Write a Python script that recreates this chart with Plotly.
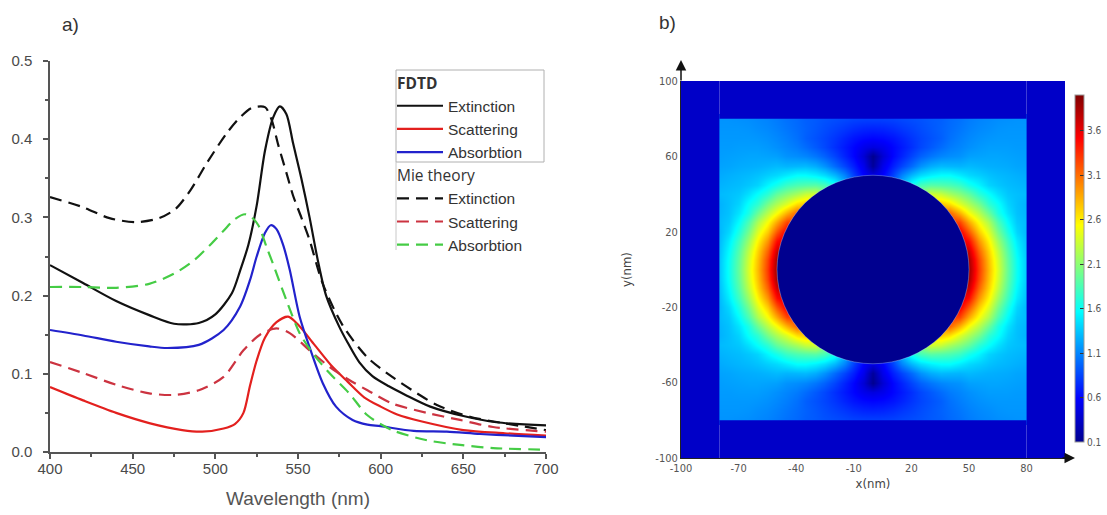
import numpy as np
import plotly.graph_objects as go

# ---------------- Panel a: cross sections ----------------
wl_fdtd_ext = [400, 420, 440, 460, 475, 490, 500, 510, 515, 520, 525, 530, 535, 539, 543, 547, 552, 557, 562, 567, 575, 580, 587, 595, 605, 615, 630, 650, 670, 700]
fdtd_ext = [0.239, 0.216, 0.193, 0.175, 0.164, 0.165, 0.176, 0.203, 0.232, 0.265, 0.315, 0.385, 0.428, 0.442, 0.432, 0.395, 0.35, 0.30, 0.245, 0.20, 0.16, 0.14, 0.115, 0.097, 0.084, 0.073, 0.058, 0.046, 0.038, 0.034]

wl_fdtd_sca = [400, 420, 440, 460, 480, 492, 505, 512, 517, 521, 525, 530, 537, 544, 550, 560, 570, 580, 590, 600, 610, 625, 650, 675, 700]
fdtd_sca = [0.083, 0.066, 0.050, 0.037, 0.028, 0.026, 0.030, 0.036, 0.050, 0.085, 0.117, 0.146, 0.166, 0.173, 0.163, 0.137, 0.111, 0.090, 0.070, 0.058, 0.048, 0.039, 0.028, 0.024, 0.021]

wl_fdtd_abs = [400, 420, 440, 460, 471, 490, 505, 515, 521, 525, 530, 533.5, 537, 541, 545, 551, 557, 565, 573, 583, 592, 600, 620, 640, 660, 680, 700]
fdtd_abs = [0.156, 0.149, 0.141, 0.135, 0.133, 0.137, 0.156, 0.186, 0.22, 0.25, 0.28, 0.29, 0.285, 0.265, 0.233, 0.173, 0.134, 0.088, 0.058, 0.041, 0.035, 0.033, 0.027, 0.026, 0.023, 0.021, 0.019]

wl_mie_ext = [400, 420, 436, 452, 466, 476, 485, 495, 507, 515, 522, 530, 534, 538, 543, 547, 552, 557, 565, 577, 592, 607, 622, 634, 654, 674, 700]
mie_ext = [0.326, 0.313, 0.299, 0.294, 0.299, 0.311, 0.335, 0.37, 0.408, 0.428, 0.44, 0.441, 0.425, 0.393, 0.357, 0.328, 0.30, 0.271, 0.215, 0.162, 0.121, 0.096, 0.075, 0.06, 0.045, 0.037, 0.028]

wl_mie_sca = [400, 420, 440, 460, 475, 490, 505, 517, 527, 537, 545, 557, 569, 581, 592, 607, 628, 648, 668, 700]
mie_sca = [0.115, 0.101, 0.086, 0.075, 0.073, 0.079, 0.096, 0.13, 0.15, 0.158, 0.152, 0.13, 0.109, 0.092, 0.079, 0.062, 0.05, 0.041, 0.032, 0.026]

wl_mie_abs = [400, 420, 440, 460, 475, 487, 497, 505, 512, 518, 522, 526, 531, 535, 543, 551, 559, 569, 581, 592, 607, 628, 648, 668, 700]
mie_abs = [0.211, 0.211, 0.21, 0.215, 0.228, 0.245, 0.265, 0.283, 0.298, 0.304, 0.30, 0.29, 0.262, 0.24, 0.194, 0.152, 0.126, 0.101, 0.075, 0.047, 0.028, 0.015, 0.009, 0.005, 0.003]

x_ticks_a = [400, 450, 500, 550, 600, 650, 700]
y_ticks_a = [0.0, 0.1, 0.2, 0.3, 0.4, 0.5]

# ---------------- Panel b: field enhancement map ----------------
# quadrant read from the (symmetric) map: rows y = 0..80 nm, columns x = 0..80 nm, step 5 nm
quad_coords = [0, 5, 10, 15, 20, 25, 30, 35, 40, 45, 50, 55, 60, 65, 70, 75, 80]
field_quadrant = [
    [3.90, 3.90, 3.90, 3.90, 3.90, 3.90, 3.90, 3.90, 3.90, 3.90, 3.90, 3.30, 2.80, 2.40, 1.95, 1.60, 1.35],
    [0.45, 2.77, 3.49, 3.70, 3.78, 3.82, 3.85, 3.86, 3.87, 3.88, 3.85, 3.26, 2.77, 2.37, 1.93, 1.59, 1.35],
    [0.45, 1.79, 2.77, 3.25, 3.49, 3.62, 3.70, 3.75, 3.78, 3.81, 3.71, 3.14, 2.70, 2.30, 1.88, 1.55, 1.33],
    [0.45, 1.30, 2.20, 2.77, 3.13, 3.35, 3.49, 3.59, 3.65, 3.70, 3.48, 2.95, 2.57, 2.17, 1.79, 1.49, 1.31],
    [0.45, 1.04, 1.79, 2.37, 2.77, 3.06, 3.25, 3.39, 3.49, 3.57, 3.19, 2.74, 2.41, 2.02, 1.67, 1.41, 1.29],
    [0.45, 0.88, 1.51, 2.04, 2.46, 2.77, 3.01, 3.18, 3.31, 3.26, 2.87, 2.52, 2.22, 1.86, 1.56, 1.36, 1.30],
    [0.45, 0.78, 1.30, 1.79, 2.20, 2.52, 2.77, 2.97, 3.13, 2.84, 2.52, 2.27, 1.97, 1.67, 1.46, 1.33, 1.28],
    [0.45, 0.71, 1.15, 1.59, 1.97, 2.30, 2.56, 2.77, 2.66, 2.42, 2.23, 2.02, 1.74, 1.59, 1.40, 1.32, 1.27],
    [0.45, 0.66, 1.04, 1.43, 1.79, 2.10, 2.37, 2.33, 2.20, 2.08, 1.94, 1.73, 1.58, 1.45, 1.35, 1.32, 1.30],
    [0.45, 0.62, 0.95, 1.30, 1.64, 1.83, 1.90, 1.88, 1.85, 1.78, 1.64, 1.53, 1.40, 1.35, 1.31, 1.29, 1.27],
    [0.45, 0.58, 0.83, 1.09, 1.29, 1.43, 1.51, 1.56, 1.56, 1.49, 1.42, 1.38, 1.33, 1.30, 1.28, 1.26, 1.24],
    [0.15, 0.50, 0.70, 0.85, 1.00, 1.15, 1.25, 1.30, 1.29, 1.28, 1.30, 1.28, 1.26, 1.25, 1.24, 1.22, 1.21],
    [0.10, 0.40, 0.60, 0.72, 0.85, 0.96, 1.04, 1.10, 1.13, 1.15, 1.20, 1.21, 1.22, 1.22, 1.21, 1.20, 1.19],
    [0.45, 0.50, 0.60, 0.68, 0.77, 0.86, 0.93, 1.00, 1.06, 1.10, 1.14, 1.17, 1.19, 1.19, 1.19, 1.18, 1.18],
    [0.60, 0.62, 0.66, 0.72, 0.79, 0.85, 0.90, 0.95, 1.02, 1.07, 1.11, 1.14, 1.16, 1.17, 1.17, 1.17, 1.17],
    [0.72, 0.73, 0.76, 0.80, 0.84, 0.88, 0.92, 0.96, 1.00, 1.04, 1.08, 1.11, 1.13, 1.15, 1.16, 1.16, 1.16],
    [0.83, 0.83, 0.84, 0.86, 0.88, 0.90, 0.93, 0.95, 0.99, 1.02, 1.06, 1.09, 1.11, 1.13, 1.14, 1.15, 1.15],
]
sphere_radius = 50
box_half = 80
domain_half = 100
x_ticks_b = [-100, -70, -40, -10, 20, 50, 80]
y_ticks_b = [-100, -60, -20, 20, 60, 100]
cbar_ticks = [0.1, 0.6, 1.1, 1.6, 2.1, 2.6, 3.1, 3.6]
z_min, z_max = 0.1, 4.0

# mirror the quadrant to the full (symmetric) map
quad = np.array(field_quadrant)
rows = np.vstack([quad[:0:-1], quad])
field = np.hstack([rows[:, :0:-1], rows])
coords = [-c for c in quad_coords[:0:-1]] + quad_coords

W, H = 1107, 515
def px(x):
    return x / W
def py(y):
    return 1 - y / H

fig = go.Figure()

line_specs = [
    (wl_fdtd_ext, fdtd_ext, "Extinction", "#111111", "solid", "fdtd"),
    (wl_fdtd_sca, fdtd_sca, "Scattering", "#e3201e", "solid", "fdtd"),
    (wl_fdtd_abs, fdtd_abs, "Absorbtion", "#2222cc", "solid", "fdtd"),
    (wl_mie_ext, mie_ext, "Extinction", "#111111", "12px,7px", "mie"),
    (wl_mie_sca, mie_sca, "Scattering", "#cc3340", "12px,7px", "mie"),
    (wl_mie_abs, mie_abs, "Absorbtion", "#45cc45", "12px,7px", "mie"),
]
group_titles = {"fdtd": "<b>FDTD</b>", "mie": "Mie theory"}
for xs, ys, name, color, dash, grp in line_specs:
    fig.add_trace(go.Scatter(
        x=xs, y=ys, name=name, mode="lines",
        line=dict(color=color, width=2.2, dash=dash, shape="spline", smoothing=0.8),
        legendgroup=grp,
        legendgrouptitle=dict(text=group_titles[grp], font=dict(size=15.5, color="#333")),
        xaxis="x", yaxis="y", hoverinfo="skip",
    ))

jet = [[0.0, "rgb(0,0,143)"], [0.125, "rgb(0,0,255)"], [0.375, "rgb(0,255,255)"],
       [0.625, "rgb(255,255,0)"], [0.875, "rgb(255,0,0)"], [1.0, "rgb(128,0,0)"]]

narrow = "Liberation Sans Narrow, DejaVu Sans Condensed, sans-serif"
fig.add_trace(go.Heatmap(
    x=coords, y=coords, z=field, zmin=z_min, zmax=z_max, zsmooth="best",
    colorscale=jet, xaxis="x2", yaxis="y2", showlegend=False, hoverinfo="skip",
    colorbar=dict(
        x=px(1075), xanchor="left", y=py(95), yanchor="top",
        thickness=9, lenmode="pixels", len=347, xpad=0, ypad=0,
        tickvals=cbar_ticks, ticktext=[f"{t:.1f}" for t in cbar_ticks],
        ticks="inside", ticklen=4, tickcolor="#333",
        tickfont=dict(family=narrow, size=10, color="#555"),
        outlinewidth=1, outlinecolor="#999",
    ),
))

FRAME_COLOR = "#0000c8"
SPHERE_COLOR = "#00008f"
shapes = []
for x0, x1, y0, y1 in [(-domain_half, -box_half, -domain_half, domain_half),
                       (box_half, domain_half, -domain_half, domain_half),
                       (-box_half, box_half, -domain_half, -box_half),
                       (-box_half, box_half, box_half, domain_half)]:
    shapes.append(dict(type="rect", xref="x2", yref="y2", x0=x0, x1=x1, y0=y0, y1=y1,
                       fillcolor=FRAME_COLOR, line=dict(width=0), layer="above"))
shapes.append(dict(type="circle", xref="x2", yref="y2", x0=-sphere_radius, x1=sphere_radius,
                   y0=-sphere_radius, y1=sphere_radius, fillcolor=SPHERE_COLOR,
                   line=dict(width=1, color="rgba(190,225,255,0.35)"), layer="above"))
# legend frame
shapes.append(dict(type="rect", xref="paper", yref="paper", x0=px(396), x1=px(544), y0=py(162), y1=py(70),
                   line=dict(color="#b0b0b0", width=1), fillcolor="rgba(0,0,0,0)"))
shapes.append(dict(type="line", xref="paper", yref="paper", x0=px(396), x1=px(396), y0=py(250), y1=py(162),
                   line=dict(color="#c8c8c8", width=1)))

sans = "Liberation Sans, Arial, sans-serif"
tick_font_a = dict(family=sans, size=15, color="#4a4a4a")
tick_font_b = dict(family=narrow, size=11, color="#555")

fig.update_layout(
    width=W, height=H, margin=dict(l=0, r=0, t=0, b=0, autoexpand=False),
    paper_bgcolor="white", plot_bgcolor="white",
    shapes=shapes,
    xaxis=dict(domain=[px(50), px(546)], range=[400, 700], tickvals=x_ticks_a,
               showline=True, linecolor="#555", linewidth=1.5, ticks="outside", ticklen=5,
               tickcolor="#555", tickwidth=1.5, showgrid=False, zeroline=False,
               minor=dict(ticks="outside", ticklen=3, dtick=25, tickcolor="#555", showgrid=False),
               tickfont=tick_font_a, anchor="y", automargin=False, ticklabelstandoff=-3,
               title=dict(text="Wavelength (nm)", font=dict(family=sans, size=19, color="#555"), standoff=16)),
    yaxis=dict(domain=[py(452), py(61)], range=[0, 0.5], tickvals=y_ticks_a, tickformat=".1f",
               showline=True, linecolor="#555", linewidth=1.5, ticks="outside", ticklen=5,
               tickcolor="#555", tickwidth=1.5, showgrid=False, zeroline=False,
               minor=dict(ticks="outside", ticklen=3, dtick=0.05, tickcolor="#555", showgrid=False),
               tickfont=tick_font_a, anchor="x", ticklabelstandoff=8, automargin=False),
    xaxis2=dict(domain=[px(681), px(1065)], range=[-domain_half, domain_half], tickvals=x_ticks_b,
                ticktext=[str(v) for v in x_ticks_b],
                showline=True, linecolor="#222", linewidth=1, ticks="", showgrid=False, zeroline=False,
                tickfont=tick_font_b, anchor="y2", automargin=False,
                title=dict(text="x(nm)", font=dict(family=narrow, size=13, color="#444"), standoff=4)),
    yaxis2=dict(domain=[py(458), py(81)], range=[-domain_half, domain_half], tickvals=y_ticks_b,
                ticktext=[str(v) for v in y_ticks_b],
                showline=True, linecolor="#222", linewidth=1, ticks="", showgrid=False, zeroline=False,
                tickfont=tick_font_b, anchor="x2", automargin=False,
                title=dict(text="y(nm)", font=dict(family=narrow, size=13, color="#444"), standoff=20)),
    legend=dict(x=px(392), y=py(66), xanchor="left", yanchor="top", bgcolor="rgba(0,0,0,0)",
                borderwidth=0, tracegroupgap=0, itemwidth=46, traceorder="grouped",
                font=dict(family=sans, size=15.5, color="#333")),
    annotations=[
        dict(text="a)", x=px(70), y=py(25), xref="paper", yref="paper", showarrow=False,
             xanchor="center", yanchor="middle", font=dict(family=sans, size=19, color="#333")),
        dict(text="b)", x=px(667), y=py(22), xref="paper", yref="paper", showarrow=False,
             xanchor="center", yanchor="middle", font=dict(family=sans, size=19, color="#333")),
        dict(text="", x=px(681), y=py(60), xref="paper", yref="paper", ax=0, ay=22,
             showarrow=True, arrowhead=2, arrowsize=1.4, arrowwidth=1.5, arrowcolor="#111"),
        dict(text="", x=px(1075), y=py(458), xref="paper", yref="paper", ax=-14, ay=0,
             showarrow=True, arrowhead=2, arrowsize=1.4, arrowwidth=1.5, arrowcolor="#111"),
    ],
)

fig.write_html("out.html")
